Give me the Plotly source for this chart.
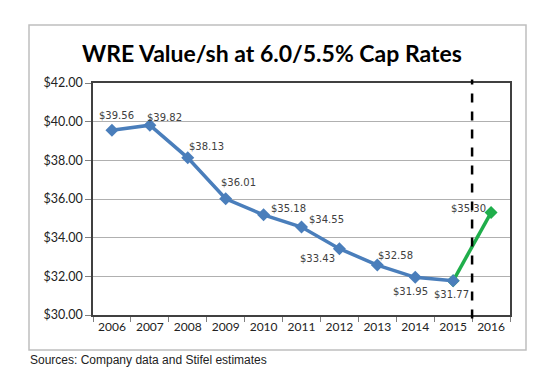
import plotly.graph_objects as go

years = ["2006", "2007", "2008", "2009", "2010", "2011", "2012", "2013", "2014", "2015", "2016"]
values = [39.56, 39.82, 38.13, 36.01, 35.18, 34.55, 33.43, 32.58, 31.95, 31.77, 35.30]
labels = ["$39.56", "$39.82", "$38.13", "$36.01", "$35.18", "$34.55", "$33.43", "$32.58", "$31.95", "$31.77", "$35.30"]
y_ticks = [30, 32, 34, 36, 38, 40, 42]
y_tick_text = ["$30.00", "$32.00", "$34.00", "$36.00", "$38.00", "$40.00", "$42.00"]

# label offsets (px) — styling only
label_dx = [5, 15, 19, 13, 25, 25, -22, 18, -5, -2, -23]
label_dy = [-15, -8, -11, -16, -6, -8, 10, -10, 14, 14, -4]

BLUE = "#4A7EBB"
GREEN = "#1FAE4B"

fig = go.Figure()

# green projection segment (2015 -> 2016)
fig.add_trace(go.Scatter(
    x=years[9:], y=values[9:], mode="lines+markers",
    line=dict(color=GREEN, width=3.5),
    marker=dict(symbol="diamond", size=10, color=GREEN),
    hoverinfo="skip", showlegend=False,
))
# blue historical series
fig.add_trace(go.Scatter(
    x=years[:10], y=values[:10], mode="lines+markers",
    line=dict(color=BLUE, width=3.5),
    marker=dict(symbol="diamond", size=10, color=BLUE),
    showlegend=False,
))

for i, (v, t) in enumerate(zip(values, labels)):
    fig.add_annotation(
        x=i, y=v, text=t, showarrow=False,
        xshift=label_dx[i], yshift=-label_dy[i],
        font=dict(family="DejaVu Sans", size=10, color="#404040"),
    )

# dashed divider between 2015 and 2016
fig.add_shape(type="line", xref="x", yref="paper", x0=9.5, x1=9.5, y0=-0.015, y1=1.015,
              line=dict(color="black", width=2.5, dash="dash"))

# outer chart box
fig.add_shape(type="rect", xref="paper", yref="paper",
              x0=-64 / 417, x1=(518 - 85) / 417, y0=-(342 - 307) / 232, y1=(307 - 17) / 232,
              line=dict(color="#BFBFBF", width=1.5), fillcolor="rgba(0,0,0,0)", layer="below")

fig.add_annotation(
    xref="paper", yref="paper", x=(264 - 85) / 417, y=(307 - 45) / 232,
    text="<b>WRE Value/sh at 6.0/5.5% Cap Rates</b>", showarrow=False,
    font=dict(family="Lato", size=23, color="black"), xanchor="center", yanchor="middle",
)
fig.add_annotation(
    xref="paper", yref="paper", x=(20 - 85) / 417, y=-(352 - 307) / 232,
    text="Sources: Company data and Stifel estimates", showarrow=False,
    font=dict(family="Liberation Sans", size=12, color="#222222"), xanchor="left", yanchor="middle",
)

fig.update_layout(
    width=558, height=378,
    margin=dict(l=85, r=56, t=75, b=71, autoexpand=False),
    paper_bgcolor="white", plot_bgcolor="white",
    font=dict(family="Lato", size=12, color="#222222"),
)
fig.update_xaxes(
    type="category", categoryorder="array", categoryarray=years,
    range=[-0.5, 10.5], tickson="boundaries", tickangle=0,
    ticks="outside", ticklen=5, tickcolor="#808080",
    showline=True, linecolor="#404040", linewidth=1.5, mirror=True,
    showgrid=False, tickfont=dict(family="Lato", size=12, color="#222222"),
)
fig.update_yaxes(
    range=[30, 42], tickvals=y_ticks, ticktext=y_tick_text,
    ticks="outside", ticklen=6, tickcolor="#808080",
    showline=True, linecolor="#404040", linewidth=1.5, mirror=True,
    showgrid=True, gridcolor="#B0B0B0", gridwidth=1, zeroline=False,
    tickfont=dict(family="Lato", size=12.5, color="#222222"),
)

fig.write_html("out.html")
